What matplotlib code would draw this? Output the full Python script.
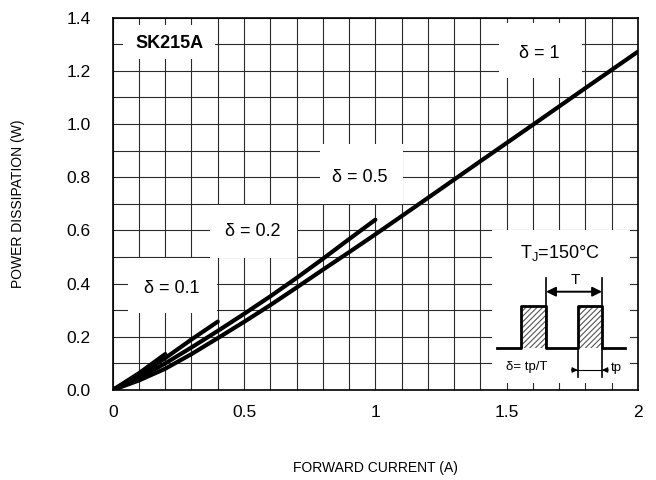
import matplotlib
matplotlib.use("Agg")
import matplotlib.pyplot as plt
from matplotlib.patches import Rectangle
import numpy as np

plt.rcParams['font.family'] = ['Liberation Sans', 'DejaVu Sans']
plt.rcParams['hatch.linewidth'] = 0.8

# ---- data ----
i_d1 = [0, 0.1, 0.2, 0.3, 0.4, 0.5, 0.6, 0.7, 0.8, 0.9, 1.0, 1.2, 1.4, 1.6, 1.8, 2.0]
p_d1 = [0, 0.036, 0.08, 0.135, 0.195, 0.256, 0.319, 0.385, 0.452, 0.518, 0.585, 0.722, 0.86, 0.997, 1.135, 1.272]
i_d05 = [0, 0.1, 0.2, 0.3, 0.4, 0.5, 0.6, 0.7, 0.8, 0.9, 1.0]
p_d05 = [0, 0.045, 0.10, 0.16, 0.222, 0.286, 0.352, 0.421, 0.493, 0.567, 0.64]
i_d02 = [0, 0.1, 0.2, 0.3, 0.4]
p_d02 = [0, 0.055, 0.12, 0.19, 0.257]
i_d01 = [0, 0.1, 0.2]
p_d01 = [0, 0.063, 0.135]

x_ticks = [0, 0.5, 1, 1.5, 2]
x_ticklabels = ["0", "0.5", "1", "1.5", "2"]
y_ticks = [0, 0.2, 0.4, 0.6, 0.8, 1.0, 1.2, 1.4]
y_ticklabels = ["0.0", "0.2", "0.4", "0.6", "0.8", "1.0", "1.2", "1.4"]

fig = plt.figure(figsize=(6.56, 4.80), dpi=100)
ax = fig.add_axes([0.1718, 0.1875, 0.8008, 0.776])
ax.set_xlim(0, 2)
ax.set_ylim(0, 1.4)

ax.set_xticks(x_ticks)
ax.set_xticklabels(x_ticklabels)
ax.set_yticks(y_ticks)
ax.set_yticklabels(y_ticklabels)
ax.set_xticks(np.arange(0, 2.001, 0.1), minor=True)
ax.set_yticks(np.arange(0, 1.401, 0.1), minor=True)
ax.tick_params(which='both', length=0)
ax.tick_params(axis='x', pad=11, labelsize=12.5)
ax.tick_params(axis='y', pad=16, labelsize=12.5)
ax.grid(which='both', color='#2a2a2a', linewidth=0.8)
ax.set_axisbelow(True)
for s in ax.spines.values():
    s.set_linewidth(1.2)
    s.set_color('black')
    s.set_zorder(6)

ax.set_xlabel("FORWARD CURRENT (A)", fontsize=10, labelpad=29)
ax.set_ylabel("POWER DISSIPATION (W)", fontsize=10, labelpad=30)

# white label boxes (axes fraction): x0, y0, x1, y1
boxes = [
    (0.0196, 0.8886, 0.1947, 0.9799),
    (0.7354, 0.8376, 0.8934, 0.9852),
    (0.3946, 0.4993, 0.5526, 0.6604),
    (0.1852, 0.3544, 0.3508, 0.4966),
    (0.0291, 0.2067, 0.1986, 0.3544),
    (0.7224, 0.0188, 0.9848, 0.4295),
]
for x0, y0, x1, y1 in boxes:
    ax.add_patch(Rectangle((x0, y0), x1 - x0, y1 - y0, transform=ax.transAxes,
                           facecolor='white', edgecolor='none', zorder=2))

lw = 3.0
for xs, ys in [(i_d1, p_d1), (i_d05, p_d05), (i_d02, p_d02), (i_d01, p_d01)]:
    ax.plot(xs, ys, color='black', linewidth=lw, solid_capstyle='round', zorder=4)

tk = dict(transform=ax.transAxes, ha='center', va='center', zorder=5)
ax.text(0.1091, 0.9315, "SK215A", fontsize=13, fontweight='bold', **tk)
ax.text(0.8115, 0.9047, "δ = 1", fontsize=13, **tk)
ax.text(0.4708, 0.5718, "δ = 0.5", fontsize=13, **tk)
ax.text(0.2671, 0.4268, "δ = 0.2", fontsize=13, **tk)
ax.text(0.1129, 0.2738, "δ = 0.1", fontsize=13, **tk)
ax.text(0.8515, 0.3678, r"T$_\mathregular{J}$=150°C", fontsize=13, **tk)

# inset pulse diagram
yb, yt = 0.112, 0.2255
xa, xb, xc, xd, xe, xf = 0.7314, 0.7767, 0.8249, 0.8852, 0.9315, 0.9752
for x0, x1 in [(xb, xc), (xd, xe)]:
    ax.add_patch(Rectangle((x0, yb), x1 - x0, yt - yb, transform=ax.transAxes,
                           facecolor='white', edgecolor='#555555', hatch='//////',
                           linewidth=0, zorder=3))
ax.plot([xa, xb, xb, xc, xc, xd, xd, xe, xe, xf],
        [yb, yb, yt, yt, yb, yb, yt, yt, yb, yb],
        transform=ax.transAxes, color='black', linewidth=2, zorder=4)
ax.plot([xc, xc], [yb, 0.3007], transform=ax.transAxes, color='black', lw=1.2, zorder=4)
ax.plot([xe, xe], [yt, 0.3007], transform=ax.transAxes, color='black', lw=1.2, zorder=4)
ax.annotate("", xy=(xc, 0.2639), xytext=(xe, 0.2639), xycoords='axes fraction',
            arrowprops=dict(arrowstyle='<|-|>', color='black', lw=1.4,
                            shrinkA=0, shrinkB=0, mutation_scale=14), zorder=4)
ax.text(0.8801, 0.2953, "T", fontsize=11, **tk)
ax.plot([xd, xd], [yb, 0.0349], transform=ax.transAxes, color='black', lw=1.2, zorder=4)
ax.plot([xe, xe], [yb, 0.0349], transform=ax.transAxes, color='black', lw=1.2, zorder=4)
ax.plot([0.8738, 0.9404], [0.0537, 0.0537], transform=ax.transAxes, color='black', lw=0.8, zorder=4)
ax.annotate("", xy=(xd, 0.0537), xytext=(xd - 0.012, 0.0537), xycoords='axes fraction',
            arrowprops=dict(arrowstyle='-|>', color='black', lw=0.8,
                            shrinkA=0, shrinkB=0, mutation_scale=8), zorder=4)
ax.annotate("", xy=(xe, 0.0537), xytext=(xe + 0.012, 0.0537), xycoords='axes fraction',
            arrowprops=dict(arrowstyle='-|>', color='black', lw=0.8,
                            shrinkA=0, shrinkB=0, mutation_scale=8), zorder=4)
ax.text(0.788, 0.0626, "δ= tp/T", fontsize=9.5, **tk)
ax.text(0.958, 0.059, "tp", fontsize=9.5, **tk)

fig.savefig("out.png", dpi=100)
